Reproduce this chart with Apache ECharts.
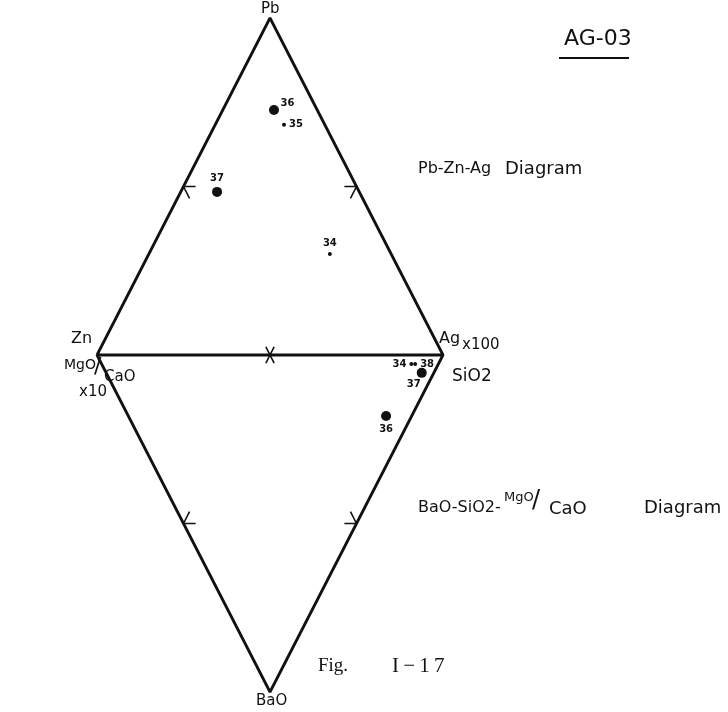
<!DOCTYPE html>
<html>
<head>
<meta charset="utf-8">
<script src="https://cdn.jsdelivr.net/npm/echarts@6/dist/echarts.min.js"></script>
<style>
  html, body { margin: 0; padding: 0; background: #fff; }
  #chart { width: 728px; height: 712px; }
</style>
</head>
<body>
<div id="chart"></div>
<script>
// Pb-Zn-Ag (upper triangle), fractions of the three components
const upperSamples = ['34', '35', '36', '37'];
const upperPb = [0.300, 0.683, 0.727, 0.484];
const upperZn = [0.177, 0.118, 0.125, 0.411];
const upperAg = [0.523, 0.199, 0.148, 0.105];

// BaO-SiO2-MgO/CaO (lower triangle), fractions of the three components
const lowerSamples = ['34', '36', '37', '38'];
const lowerBaO = [0.027, 0.181, 0.053, 0.027];
const lowerSiO2 = [0.895, 0.745, 0.912, 0.906];
const lowerMgCa = [0.078, 0.074, 0.035, 0.067];

// Ternary -> plane. Zn / MgO-CaO at x=0, Ag / SiO2 at x=1,
// Pb at top (y=1), BaO at bottom (y=-1).
function upXY(pb, ag) { return [ag + pb / 2, pb]; }
function loXY(bao, sio2) { return [sio2 + bao / 2, -bao]; }

const INK = '#111';

// Marker style per sample
const bigUpper = { '36': true, '37': true };
const bigLower = { '36': true, '37': true };
const upperLabelPos = { '34': 'top', '35': 'right', '36': ['115%', '-70%'], '37': 'top' };
const lowerLabelPos = { '34': 'left', '38': 'right', '37': ['-100%', '120%'], '36': 'bottom' };

// Outline of both triangles (vertices = pure components)
const outline = [
  upXY(0, 0), upXY(1, 0), upXY(0, 1), loXY(1, 0), upXY(0, 0), upXY(0, 1)
];

// Half-way tick marks on each side
const d = 0.035;
const c = 0.024;
const ticks = [];
function seg(a, b) { ticks.push(a, b, null); }
// upper-left side midpoint Pb .5 / Zn .5
seg(upXY(0.5, 0), upXY(0.5, d));
seg(upXY(0.5, 0), upXY(0.5 - d, d));
// upper-right side midpoint Pb .5 / Ag .5
seg(upXY(0.5, 0.5), upXY(0.5, 0.5 - d));
seg(upXY(0.5, 0.5), upXY(0.5 - d, 0.5));
// lower-left side midpoint BaO .5 / MgO-CaO .5
seg(loXY(0.5, 0), loXY(0.5, d));
seg(loXY(0.5, 0), loXY(0.5 - d, d));
// lower-right side midpoint BaO .5 / SiO2 .5
seg(loXY(0.5, 0.5), loXY(0.5, 0.5 - d));
seg(loXY(0.5, 0.5), loXY(0.5 - d, 0.5));
// cross at the centre of the shared base
seg(upXY(c, 0.5 - c), loXY(c, 0.5));
seg(upXY(c, 0.5), loXY(c, 0.5 - c));

const upperPts = upperSamples.map((s, i) => ({
  value: upXY(upperPb[i], upperAg[i]),
  name: s,
  symbolSize: bigUpper[s] ? 10 : 4,
  label: { position: upperLabelPos[s] }
}));
const lowerPts = lowerSamples.map((s, i) => ({
  value: loXY(lowerBaO[i], lowerSiO2[i]),
  name: s,
  symbolSize: bigLower[s] ? 10 : 4,
  label: { position: lowerLabelPos[s] }
}));

const FONT = '"DejaVu Sans", sans-serif';
function txt(x, y, text, size, extra) {
  return Object.assign({
    type: 'text', left: x, top: y,
    style: { text: text, font: size + 'px ' + FONT, fill: INK }
  }, extra || {});
}

const pointLabel = {
  show: true, formatter: p => p.name, color: INK,
  fontSize: 10, fontWeight: 'bold', fontFamily: FONT, distance: 3
};

const chart = echarts.init(document.getElementById('chart'), null, { renderer: 'canvas' });
chart.setOption({
  backgroundColor: '#fff',
  animation: false,
  grid: { left: 97, top: 18, width: 346, height: 674 },
  xAxis: { type: 'value', min: 0, max: 1, show: false },
  yAxis: { type: 'value', min: -1, max: 1, show: false },
  series: [
    {
      type: 'line', data: outline, symbol: 'none',
      lineStyle: { color: INK, width: 2.8 }, z: 2
    },
    {
      type: 'line', data: ticks, symbol: 'none', connectNulls: false,
      lineStyle: { color: INK, width: 1.6 }, z: 2
    },
    {
      type: 'scatter', data: upperPts, itemStyle: { color: INK, opacity: 1 },
      label: pointLabel, z: 3
    },
    {
      type: 'scatter', data: lowerPts, itemStyle: { color: INK, opacity: 1 },
      label: pointLabel, z: 3
    }
  ],
  graphic: [
    txt(261, 2, 'Pb', 15),
    txt(564, 28, 'AG-03', 22),
    { type: 'line', shape: { x1: 559, y1: 58, x2: 629, y2: 58 }, style: { stroke: INK, lineWidth: 2 } },
    txt(418, 161, 'Pb-Zn-Ag', 16),
    txt(505, 160, 'Diagram', 18),
    txt(71, 331, 'Zn', 16),
    txt(64, 358, 'MgO', 14),
    txt(94, 356, '/', 22),
    txt(104, 370, 'CaO', 15),
    txt(79, 385, 'x10', 15),
    txt(439, 331, 'Ag', 16),
    txt(462, 338, 'x100', 15),
    txt(452, 368, 'SiO2', 17),
    txt(418, 500, 'BaO-SiO2-', 16),
    txt(504, 491, 'MgO', 13),
    txt(532, 489, '/', 24),
    txt(549, 500, 'CaO', 18),
    txt(644, 499, 'Diagram', 18),
    {
      type: 'text', left: 318, top: 657,
      style: { text: 'Fig.', font: '19px "Liberation Serif", serif', fill: INK }
    },
    {
      type: 'text', left: 392, top: 656,
      style: { text: 'I\u2009\u2212\u20091\u20097', font: '21px "Liberation Serif", serif', fill: INK }
    },
    txt(256, 694, 'BaO', 15)
  ]
});
</script>
</body>
</html>
